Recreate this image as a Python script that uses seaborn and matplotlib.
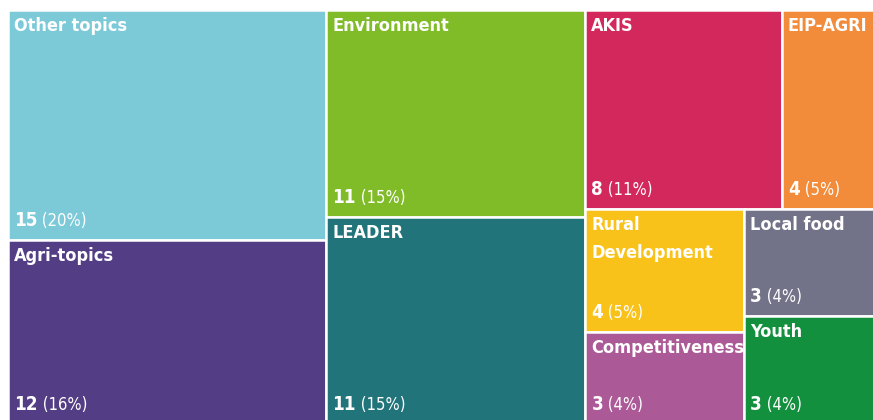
import matplotlib.pyplot as plt
import seaborn as sns
from matplotlib import font_manager
from matplotlib.patches import Rectangle

# 数据
topics = ['Other topics', 'Agri-topics', 'Environment', 'LEADER', 'AKIS', 'EIP-AGRI',
          'Rural\nDevelopment', 'Competitiveness', 'Local food', 'Youth']
counts = [15, 12, 11, 11, 8, 4, 4, 3, 3, 3]
colors = ['#7CC9D8', '#533D85', '#80BB28', '#21747A', '#D3285C', '#F28B3A',
          '#F9C21A', '#AC5A97', '#727289', '#12903E']

# 分组结构 (切片方向交替)
layout_tree = [[0, 1], [2, 3], [[4, 5], [[6, 7], [8, 9]]]]

sns.set_theme(style='white')


# 找窄体字体 (粗体 + 常规)
def find_condensed(bold):
    for f in font_manager.fontManager.ttflist:
        if f.name == 'DejaVu Sans' and f.stretch == 'condensed' and f.style == 'normal':
            if (f.weight in ('bold', 700)) == bold:
                return font_manager.FontProperties(fname=f.fname)
    return font_manager.FontProperties(family='DejaVu Sans', stretch='condensed',
                                       weight='bold' if bold else 'normal')


font_bold = find_condensed(True)
font_light = find_condensed(False)

total = sum(counts)


def weight(node):
    if isinstance(node, int):
        return counts[node]
    return sum(weight(n) for n in node)


def squarify(node, x, y, w, h, horiz, out):
    if isinstance(node, int):
        out[node] = (x, y, w, h)
        return
    tot = weight(node)
    pos = 0
    for child in node:
        frac = weight(child) / tot
        if horiz:
            squarify(child, x + pos * w, y, w * frac, h, not horiz, out)
        else:
            squarify(child, x, y + pos * h, w, h * frac, not horiz, out)
        pos += frac


rects = {}
squarify(layout_tree, 8, 10, 872, 414, True, rects)

fig = plt.figure(figsize=(8.73, 4.2), dpi=100)
ax = fig.add_axes([0, 0, 1, 1])
ax.set_xlim(0, 873)
ax.set_ylim(420, 0)
ax.axis('off')

for i, (x, y, w, h) in rects.items():
    ax.add_patch(Rectangle((x, y), w, h, facecolor=colors[i], edgecolor='white', lw=1.8))
    ax.text(x + 6, y + 7, topics[i], color='white', fontproperties=font_bold, fontsize=13,
            ha='left', va='top', linespacing=1.7)
    pct = round(counts[i] / total * 100)
    t = ax.text(x + 6, y + h - 14, str(counts[i]), color='white', fontproperties=font_bold,
                fontsize=13.5, ha='left', va='baseline')
    ax.annotate(f' ({pct}%)', xy=(1, 0), xycoords=t, color='white', fontproperties=font_light,
                fontsize=12, ha='left', va='bottom')

plt.savefig('out.png', dpi=100)
